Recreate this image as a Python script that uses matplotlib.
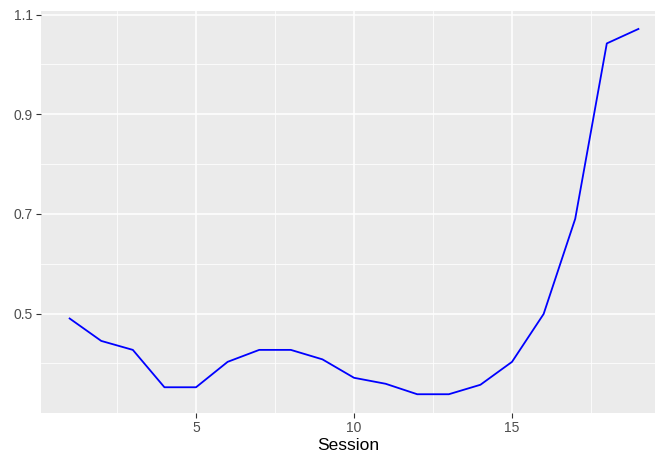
import numpy as np
import matplotlib
matplotlib.use("Agg")
import matplotlib.pyplot as plt
from matplotlib.ticker import MultipleLocator

# session-level values
session = list(range(1, 20))
value = [0.490, 0.445, 0.427, 0.352, 0.352, 0.403, 0.427, 0.427, 0.408, 0.371,
         0.359, 0.338, 0.338, 0.357, 0.403, 0.499, 0.690, 1.042, 1.071]

x_ticks = [5, 10, 15]
y_ticks = [0.5, 0.7, 0.9, 1.1]

plt.rcParams['font.family'] = ['Liberation Sans', 'DejaVu Sans']

fig = plt.figure(figsize=(6.55, 4.55), dpi=100)
W, H = 655, 455
left, right, top, bottom = 41.2, 655, 10.7, 412.5
ax = fig.add_axes([left / W, 1 - bottom / H, (right - left) / W, (bottom - top) / H])

ax.set_facecolor('#ebebeb')
for s in ax.spines.values():
    s.set_visible(False)

ax.plot(session, value, color='#0000ff', lw=1.3, solid_joinstyle='round')

# ggplot-like padding: 5% of y range, 0.6 units on x
ymin, ymax = min(value), max(value)
pad = (ymax - ymin) * 0.05
ax.set_ylim(ymin - pad, ymax + pad)
ax.set_xlim(min(session) - 0.9, 19.525)

ax.set_xticks(x_ticks)
ax.set_yticks(y_ticks)
ax.set_yticklabels([f"{t:.1f}" for t in y_ticks])
ax.xaxis.set_minor_locator(MultipleLocator(2.5))
ax.yaxis.set_minor_locator(MultipleLocator(0.1))

ax.grid(which='major', color='white', lw=1.1)
ax.grid(which='minor', color='white', lw=0.55)
ax.set_axisbelow(True)

ax.tick_params(which='major', length=3.5, width=0.8, color='#333333',
               labelcolor='#4d4d4d', labelsize=10, pad=2.5)
ax.tick_params(which='minor', length=0)

ax.set_xlabel('Session', fontsize=12.5, color='black', labelpad=2.5)

fig.savefig('out.png', dpi=100)
